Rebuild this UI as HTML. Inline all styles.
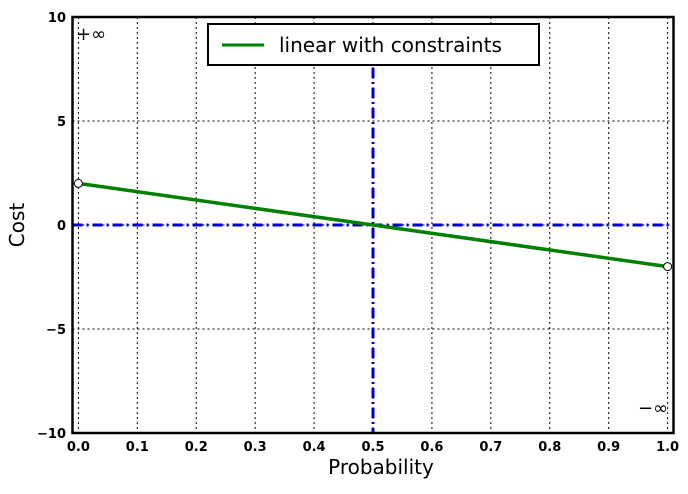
<!DOCTYPE html>
<html><head><meta charset="utf-8"><style>
body{margin:0;background:#fff;font-family:"Liberation Sans","DejaVu Sans",sans-serif}
svg text{font-family:"DejaVu Sans","Liberation Sans",sans-serif}
</style></head><body>
<svg width="688" height="489" xmlns="http://www.w3.org/2000/svg">
<g id="grid"></g><g id="ticks"></g><g id="series"></g>
<rect x="72.5" y="17" width="601" height="416" fill="none" stroke="#000" stroke-width="2.5"/>
<g>
<rect x="208" y="24" width="331" height="41" fill="#fff" stroke="#000" stroke-width="2"/>
<line x1="222" y1="45" x2="264" y2="45" stroke="#008000" stroke-width="3"/>
<text x="279" y="52" font-size="20">linear with constraints</text>
</g>
<text x="381" y="474" font-size="20" text-anchor="middle">Probability</text>
<text transform="translate(24,225) rotate(-90)" font-size="20" text-anchor="middle">Cost</text>
<text x="76" y="40" font-size="18">+∞</text>
<text x="638" y="414" font-size="18">−∞</text>
</svg>
<script>
const xTicks=[0,0.1,0.2,0.3,0.4,0.5,0.6,0.7,0.8,0.9,1.0];
const xTickLabels=["0.0","0.1","0.2","0.3","0.4","0.5","0.6","0.7","0.8","0.9","1.0"];
const yTicks=[-10,-5,0,5,10];
const yTickLabels=["−10","−5","0","5","10"];
const seriesX=[0,1];
const seriesY=[2,-2];
const markerX=[0,1];
const markerY=[2,-2];
const refX=0.5, refY=0;
const X=v=>72.5+(v+0.01)/1.02*601;
const Y=v=>433-(v+10)/20*416;
const NS="http://www.w3.org/2000/svg";
function mk(p,t,a){const e=document.createElementNS(NS,t);for(const k in a)e.setAttribute(k,a[k]);p.appendChild(e);return e;}
const grid=document.getElementById('grid'),ticks=document.getElementById('ticks'),ser=document.getElementById('series');
xTicks.forEach((v,i)=>{
 const g=mk(grid,'line',{x1:X(v),x2:X(v),y1:17,y2:433,stroke:'#000','stroke-width':1,'stroke-dasharray':'2,3'});
 
 
 const t=mk(ticks,'text',{x:X(v),y:451,'font-size':13,'font-weight':'bold','text-anchor':'middle'});t.textContent=xTickLabels[i];
 
 
});
yTicks.forEach((v,i)=>{
 const g=mk(grid,'line',{x1:72.5,x2:673.5,y1:Y(v),y2:Y(v),stroke:'#000','stroke-width':1,'stroke-dasharray':'2,3'});
 
 
 const t=mk(ticks,'text',{x:66,y:Y(v)+5,'font-size':13,'font-weight':'bold','text-anchor':'end'});t.textContent=yTickLabels[i];
 
 
});
const vr=mk(ser,'line',{x1:X(refX),x2:X(refX),y1:68,y2:433,stroke:'#0000cc','stroke-width':3,'stroke-dasharray':'10,4,2,4'});


const hr=mk(ser,'line',{x1:72.5,x2:673.5,y1:Y(refY),y2:Y(refY),stroke:'#0000cc','stroke-width':3,'stroke-dasharray':'10,4,2,4'});


const pl=mk(ser,'polyline',{points:seriesX.map((x,i)=>X(x)+','+Y(seriesY[i])).join(' '),fill:'none',stroke:'#008000','stroke-width':3.5});


markerX.forEach((x,i)=>{
 const c=mk(ser,'circle',{cx:X(x),cy:Y(markerY[i]),r:4,fill:'#fff',stroke:'#000','stroke-width':1});
 
 
});
</script>
</body></html>
